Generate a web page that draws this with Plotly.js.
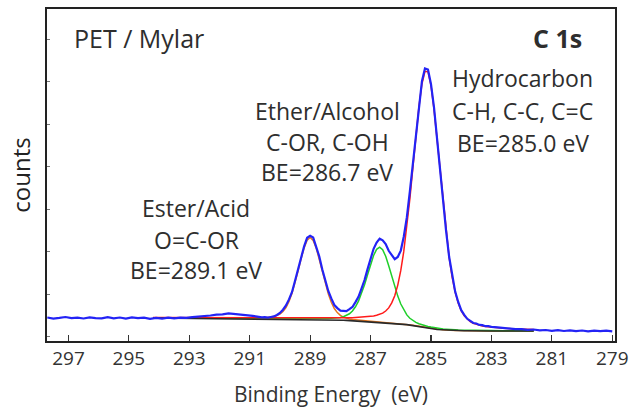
<!DOCTYPE html>
<html>
<head>
<meta charset="utf-8">
<script src="https://cdn.plot.ly/plotly-3.0.1.min.js"></script>
<style>html,body{margin:0;padding:0;background:#fff;}#chart{width:644px;height:408px;}</style>
</head>
<body>
<div id="chart"></div>
<script>
// ---- measured spectrum (blue) ----
var expE = [297.7,297.5,297.3,297.1,296.9,296.7,296.5,296.3,296.1,295.9,295.7,295.5,295.3,295.1,294.9,294.7,294.5,294.3,294.1,293.9,293.7,293.5,293.3,293.1,292.9,292.7,292.5,292.3,292.1,291.9,291.7,291.5,291.3,291.1,290.9,290.7,
  290.6,290.5,290.4,290.3,290.2,290.1,
  290.0,289.9,289.8,289.7,289.6,289.5,289.4,289.3,289.2,289.1,289.0,288.9,288.8,288.7,288.6,288.5,288.4,288.3,288.2,288.1,288.0,287.9,287.8,287.7,287.6,287.5,287.4,287.3,287.2,287.1,287.0,286.9,286.8,286.7,286.6,286.5,286.4,286.3,286.2,286.1,286.0,285.9,285.8,285.7,285.6,285.5,285.4,285.3,285.2,285.1,285.0,284.9,284.8,284.7,284.6,284.5,284.4,284.3,284.2,284.1,284.0,283.9,283.8,283.7,283.6,283.5,283.4,283.3,283.2,283.1,283.0,
  282.8,282.6,282.4,282.2,282.0,281.8,281.6,281.4,281.2,281.0,280.8,280.6,280.4,280.2,280.0,279.8,279.6,279.4,279.2,279.0];
var expCounts = [23.5,22.4,23.1,24.0,22.8,23.3,22.5,23.7,22.9,22.6,23.8,22.7,23.5,22.3,23.6,22.9,23.4,22.2,23.1,22.4,23.3,22.6,23.4,23.2,23.9,24.3,25.0,25.5,26.3,26.6,27.7,27.1,26.9,26.0,25.1,24.2,
  23.6,23.8,23.4,24.0,24.6,26.0,
  28.0,31.3,35.5,41.6,49.0,60.3,71.2,84.5,94.6,103.2,105.2,103.4,95.0,84.8,71.8,60.9,50.0,42.6,36.0,32.9,30.4,30.2,29.9,31.9,34.0,38.9,44.2,52.4,61.0,71.9,82.0,92.2,98.5,102.4,100.6,97.0,90.2,85.6,81.8,84.0,90.4,104.5,123.6,149.6,178.0,209.1,236.8,259.8,272.6,271.4,256.7,233.5,202.4,170.9,138.0,109.8,84.2,65.0,49.4,39.0,30.8,26.1,22.2,20.2,18.0,17.5,16.1,15.9,14.8,14.9,14.2,
  13.6,12.8,12.6,11.9,11.8,11.2,11.5,10.6,11.0,10.2,10.9,10.0,10.6,9.8,10.5,9.6,10.3,9.9,10.4,9.7];

// ---- fit components ----
var fitE = [294.2,293.5,293.0,292.5,292.0,291.5,291.0,290.5,290.2,
  290.0,289.9,289.8,289.7,289.6,289.5,289.4,289.3,289.2,289.1,289.0,288.9,288.8,288.7,288.6,288.5,288.4,288.3,288.2,288.1,288.0,287.9,287.8,287.7,287.6,287.5,287.4,287.3,287.2,287.1,287.0,286.9,286.8,286.7,286.6,286.5,286.4,286.3,286.2,286.1,286.0,285.9,285.8,285.7,285.6,285.5,285.4,285.3,285.2,285.1,285.0,284.9,284.8,284.7,284.6,284.5,284.4,284.3,284.2,284.1,284.0,283.9,283.8,283.7,283.6,283.5,283.4,283.3,283.2,283.1,283.0,
  282.6,282.2,281.6];
var background = [23.0,22.8,22.7,22.6,22.5,22.4,22.3,22.1,22.0,
  22.0,22.0,21.9,21.9,21.8,21.8,21.7,21.7,21.6,21.6,21.5,21.4,21.4,21.3,21.2,21.2,21.1,21.0,20.9,20.9,20.8,20.7,20.6,20.4,20.3,20.2,20.1,19.9,19.8,19.6,19.5,19.3,19.1,18.9,18.7,18.5,18.2,18.0,17.7,17.5,17.2,16.8,16.4,15.9,15.5,15.0,14.5,14.0,13.5,13.0,12.5,12.0,11.5,11.3,11.0,10.8,10.5,10.4,10.4,10.3,10.2,10.2,10.2,10.1,10.1,10.1,10.1,10.0,10.0,10.0,10.0,
  10.0,10.0,10.0];
var esterFit = [23.1,22.9,22.9,22.8,22.8,22.8,22.9,23.2,24.2,
  26.8,29.5,33.5,39.6,47.8,58.2,70.0,82.2,93.1,100.8,103.5,100.6,92.9,81.8,69.5,57.6,47.1,38.7,32.5,28.4,25.6,23.9,22.8,22.0,21.6,21.3,21.1,20.8,20.6,20.3,20.1,19.9,19.6,19.4,19.1,18.9,18.6,18.4,18.0,17.8,17.5,17.1,16.7,16.2,15.7,15.2,14.7,14.2,13.7,13.2,12.7,12.2,11.7,11.5,11.2,11.0,10.6,10.5,10.5,10.4,10.3,10.3,10.3,10.2,10.2,10.2,10.2,10.1,10.1,10.1,10.1,
  10.0,10.0,10.0];
var etherFit = [23.1,22.9,22.8,22.7,22.6,22.6,22.6,22.5,22.4,
  22.4,22.5,22.4,22.4,22.4,22.4,22.3,22.4,22.3,22.4,22.3,22.3,22.4,22.4,22.4,22.5,22.5,22.6,22.8,23.1,23.6,24.3,25.4,27.2,30.0,34.2,39.9,47.3,56.3,66.3,76.5,85.5,91.7,93.9,91.3,84.7,75.2,64.7,54.2,44.9,37.0,30.8,26.1,22.7,20.3,18.6,17.3,16.2,15.4,14.6,13.9,13.3,12.7,12.4,12.0,11.8,11.4,11.2,11.2,11.0,10.9,10.8,10.8,10.7,10.6,10.6,10.6,10.5,10.4,10.4,10.4,
  10.3,10.3,10.2];
var hydroFit = [23.5,23.4,23.4,23.4,23.4,23.5,23.5,23.4,22.9,
  22.9,22.9,22.8,22.9,22.8,22.8,22.7,22.8,22.7,22.8,22.8,22.7,22.8,22.8,22.7,22.9,22.9,22.9,22.9,23.0,23.1,23.1,23.2,23.2,23.3,23.5,23.7,23.8,24.0,24.2,24.6,25.0,25.7,26.5,27.9,30.0,33.1,38.1,45.3,55.9,70.6,89.8,113.9,142.1,173.4,204.9,234.1,257.0,269.7,269.2,255.5,231.6,201.4,169.2,137.2,108.3,83.5,63.8,48.8,37.9,30.3,25.1,21.7,19.3,17.7,16.7,15.8,15.1,14.6,14.2,13.9,
  12.8,12.1,11.5];

var xTicks = [297,295,293,291,289,287,285,283,281,279];
var xTickText = ['297','295','293','291','289','287','285','283','281','279'];

var textColor = '#2e2e2e';
function line(x, y, color, width) {
  return {x: x, y: y, type: 'scatter', mode: 'lines', line: {color: color, width: width}, hoverinfo: 'skip'};
}
var traces = [
  line(fitE, esterFit, '#e8751a', 1.5),
  line(fitE, etherFit, '#1fcf2a', 1.5),
  line(fitE, hydroFit, '#ff1a1a', 1.5),
  line(fitE, background, '#2a2a2a', 1.6),
  line(expE, expCounts, '#2323f5', 2.2)
];

function ann(text, px, py, size, anchor) {
  return {text: text, xref: 'paper', yref: 'paper',
    x: (px - 47) / 568, y: (341 - py) / 332,
    xanchor: anchor || 'center', yanchor: 'middle', showarrow: false,
    font: {family: 'Open Sans', size: size, color: textColor}};
}
var annotations = [
  ann('PET / Mylar', 72, 38, 25, 'left'),
  ann('<b>C 1s</b>', 584, 38, 25, 'right'),
  ann('Hydrocarbon', 522.5, 78.4, 23),
  ann('C-H, C-C, C=C', 522.5, 111, 23),
  ann('BE=285.0 eV', 522.5, 143.4, 23),
  ann('Ether/Alcohol', 327, 111, 23),
  ann('C-OR, C-OH', 327, 141.7, 23),
  ann('BE=286.7 eV', 327, 172.3, 23),
  ann('Ester/Acid', 196, 208, 23),
  ann('O=C-OR', 196, 239.5, 23),
  ann('BE=289.1 eV', 196, 270, 23)
];

var layout = {
  width: 644, height: 408,
  margin: {l: 47, r: 29, t: 9, b: 67},
  paper_bgcolor: '#ffffff', plot_bgcolor: '#ffffff',
  showlegend: false,
  font: {family: 'Open Sans', color: textColor},
  xaxis: {
    range: [297.71, 278.91],
    tickmode: 'array', tickvals: xTicks, ticktext: xTickText,
    ticks: 'inside', ticklen: 6, tickwidth: 1.2, tickcolor: '#333',
    showline: true, mirror: true, linecolor: '#222', linewidth: 1.6,
    showgrid: false, zeroline: false,
    tickfont: {family: 'Open Sans', size: 19, color: '#333'},
    title: {text: 'Binding Energy\u00a0 (eV)', font: {family: 'Open Sans', size: 21, color: '#333'}, standoff: 17}
  },
  yaxis: {
    range: [0, 332],
    showticklabels: false,
    ticks: 'inside', ticklen: 3, tickwidth: 1, tickcolor: '#777',
    tick0: 4.5, dtick: 42.5,
    showline: true, mirror: true, linecolor: '#222', linewidth: 1.6,
    showgrid: false, zeroline: false,
    title: {text: 'counts', font: {family: 'Open Sans', size: 24, color: '#222'}, standoff: 8}
  },
  annotations: annotations
};
Plotly.newPlot('chart', traces, layout, {staticPlot: true, displayModeBar: false});
</script>
</body>
</html>
